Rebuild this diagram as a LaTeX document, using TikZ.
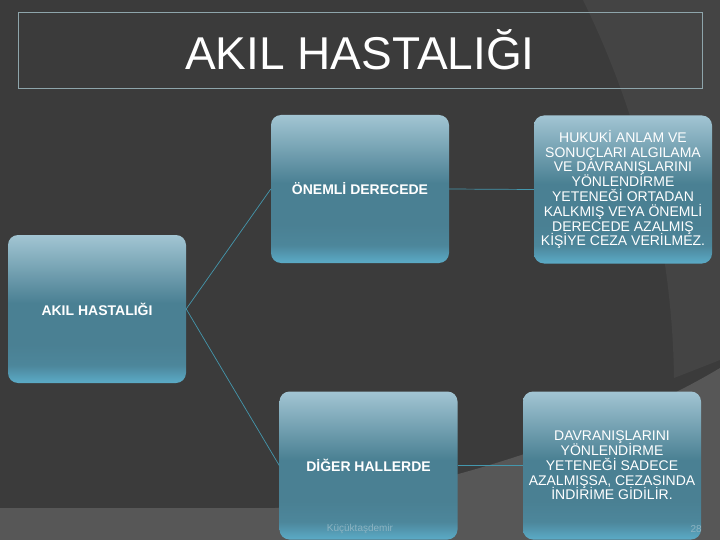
\documentclass[tikz,border=0pt]{standalone}
\usepackage{fontspec}
\setmainfont{Liberation Sans}
\usepackage{tikz}
\usetikzlibrary{calc}
\usetikzlibrary{backgrounds}
\definecolor{zemin}{HTML}{3B3B3B}
\definecolor{zeminacik}{HTML}{444444}
\definecolor{zeminalt}{HTML}{575757}
\definecolor{cerceve}{HTML}{8EA5AB}
\definecolor{baglanti}{HTML}{4497AD}
\definecolor{altyazi}{HTML}{8DB4C2}
\definecolor{kutualt}{HTML}{5BABC7}
\definecolor{kutuorta}{HTML}{4A8093}
\definecolor{kutuust}{HTML}{A2C5D3}
\newcommand{\sikisatir}{\fontsize{14}{14.8}\selectfont\setlength{\lineskiplimit}{-20pt}\setlength{\lineskip}{0pt}}
\pgfdeclareverticalshading{kutushade}{100bp}{color(0bp)=(kutualt); color(25bp)=(kutualt);
  color(31bp)=(kutuorta!85!kutualt); color(38bp)=(kutuorta); color(52bp)=(kutuorta);
  color(75bp)=(kutuust); color(100bp)=(kutuust)}
\tikzset{kutu/.style={rounded corners=10pt,shade,shading=kutushade,minimum width=178pt,
  minimum height=148pt,inner sep=0pt,text=white,align=center}}
\tikzset{kalin/.style={kutu,font=\fontsize{14}{15}\selectfont\bfseries}}
\tikzset{ince/.style={kutu,font=\sikisatir}}
\tikzset{bag/.style={draw=baglanti,line width=0.7pt}}
\tikzset{baslik/.style={draw=cerceve,line width=0.8pt,minimum width=684pt,minimum height=76pt,
  text=white,font=\fontsize{46}{50}\selectfont}}
\tikzset{dipnot/.style={text=altyazi,font=\fontsize{10}{12}\selectfont,inner sep=0pt}}

\begin{document}
\begin{tikzpicture}[x=1pt,y=-1pt]

% zemin
\fill[zemin] (0,0) rectangle (720,540);
\fill[zeminacik] (583,0) .. controls (632,100) and (672,230) .. (674,378) -- (720,360) -- (720,0) -- cycle;
\fill[zeminalt] (0,508) -- (275,508) .. controls (400,500) and (600,440) .. (720,368) -- (720,540) -- (0,540) -- cycle;
\useasboundingbox (0,0) rectangle (720,540);

\node[baslik] (title) at (360,50) {AKIL HASTALIĞI};

\node[kalin] (akil) at (97,309) {AKIL HASTALIĞI};
\node[kalin] (onemli) at (360,189) {ÖNEMLİ DERECEDE};
\node[kalin] (diger) at (368.5,465.5) {DİĞER HALLERDE};
\node[ince] (hukuki) at (623,189.5) {HUKUKİ ANLAM VE\\SONUÇLARI ALGILAMA\\VE DAVRANIŞLARINI\\YÖNLENDİRME\\YETENEĞİ ORTADAN\\KALKMIŞ VEYA ÖNEMLİ\\DERECEDE AZALMIŞ\\KİŞİYE CEZA VERİLMEZ.};
\node[ince] (davranis) at (612,465.5) {DAVRANIŞLARINI\\YÖNLENDİRME\\YETENEĞİ SADECE\\AZALMIŞSA, CEZASINDA\\İNDİRİME GİDİLİR.};

\draw[bag] (akil.east) -- (onemli.west);
\draw[bag] (akil.east) -- (diger.west);
\draw[bag] (onemli.east) -- (hukuki.west);
\draw[bag] (diger.east) -- (davranis.west);

\node[dipnot] (yazar) at (360,529) {Küçüktaşdemir};
\node[dipnot,anchor=east] (sayfa) at (702,529) {28};

\end{tikzpicture}
\end{document}
